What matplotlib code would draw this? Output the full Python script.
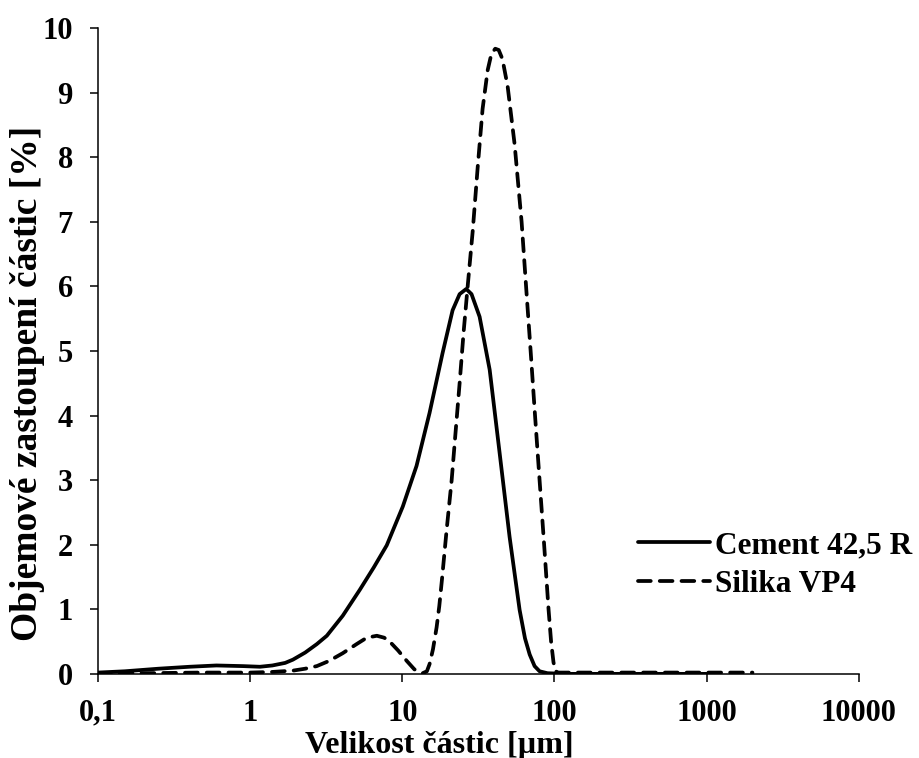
import matplotlib
matplotlib.use("Agg")
import matplotlib.pyplot as plt

# Particle size distribution (volume %) vs. particle size [µm]
cement_size = [0.1, 0.15, 0.25, 0.4, 0.6, 0.9, 1.16, 1.4, 1.7, 1.91, 2.3, 2.74, 3.19,
               4.06, 5.25, 6.5, 7.9, 10.07, 12.4, 15.1, 18.4, 21.4, 23.8, 26.3,
               28.5, 32.2, 37.5, 43.6, 50.7, 59.0, 64.0, 68.7, 74.0, 79.8, 90.0,
               120.0, 200.0, 400.0, 700.0, 1000.0]
cement_vol = [0.02, 0.04, 0.08, 0.11, 0.13, 0.12, 0.11, 0.13, 0.17, 0.22, 0.33, 0.46, 0.59,
              0.90, 1.30, 1.65, 1.99, 2.59, 3.22, 4.04, 4.97, 5.63, 5.88, 5.96,
              5.88, 5.53, 4.71, 3.42, 2.12, 0.99, 0.55, 0.30, 0.12, 0.04, 0.01,
              0.0, 0.0, 0.0, 0.0, 0.0]

silika_size = [0.1, 0.2, 0.47, 1.0, 1.4, 1.91, 2.3, 2.74, 3.3, 4.06, 5.0, 5.84, 6.8,
               7.6, 8.26, 9.4, 10.7, 12.0, 13.6, 14.5, 15.1, 15.9, 16.8, 17.5,
               18.2, 19.5, 21.1, 22.4, 23.8, 25.3, 27.0, 29.0, 31.3, 33.7, 36.4,
               38.5, 40.8, 43.0, 45.5, 49.2, 54.7, 60.8, 65.5, 69.7, 74.5, 79.8,
               85.5, 91.4, 95.0, 98.5, 101.6, 106.0, 150.0, 300.0, 700.0, 1300.0,
               2000.0]
silika_vol = [0.01, 0.01, 0.02, 0.02, 0.03, 0.05, 0.08, 0.12, 0.20, 0.32, 0.46, 0.56, 0.59,
              0.56, 0.50, 0.36, 0.20, 0.07, 0.01, 0.04, 0.15, 0.38, 0.72, 1.05,
              1.45, 2.20, 3.00, 3.75, 4.50, 5.30, 6.05, 6.85, 7.85, 8.75, 9.35,
              9.60, 9.68, 9.66, 9.52, 9.10, 8.20, 7.00, 5.90, 5.00, 4.00, 3.00,
              2.00, 1.00, 0.50, 0.18, 0.04, 0.02, 0.02, 0.02, 0.02, 0.02,
              0.02]

x_ticks = [0.1, 1, 10, 100, 1000, 10000]
x_tick_labels = ["0,1", "1", "10", "100", "1000", "10000"]
y_ticks = list(range(0, 11))

plt.rcParams["font.family"] = ["Liberation Serif", "DejaVu Serif"]
plt.rcParams["font.weight"] = "bold"

fig = plt.figure(figsize=(9.2, 7.58), dpi=100)
ax = fig.add_axes([0.1065, 0.111, 0.827, 0.852])

ax.plot(cement_size, cement_vol, color="black", lw=2.7, solid_capstyle="round",
        solid_joinstyle="round", label="Cement 42,5 R")
ax.plot(silika_size, silika_vol, color="black", lw=2.7, linestyle=(0, (3.4, 2.4)),
        dash_capstyle="round", label="Silika VP4")

ax.set_xscale("log")
ax.set_xlim(0.1, 10000)
ax.set_ylim(0, 10)
ax.set_xticks(x_ticks)
ax.set_xticklabels(x_tick_labels)
ax.minorticks_off()
ax.set_yticks(y_ticks)

for side in ("top", "right"):
    ax.spines[side].set_visible(False)
for side in ("left", "bottom"):
    ax.spines[side].set_linewidth(1.1)

ax.tick_params(axis="both", direction="out", length=6, width=1.1,
               labelsize=22, pad=12)
for lbl in ax.get_xticklabels() + ax.get_yticklabels():
    lbl.set_fontweight("bold")

ax.set_xlabel("Velikost částic [µm]", fontsize=23, fontweight="bold")
ax.set_ylabel("Objemové zastoupení částic [%]", fontsize=27, fontweight="bold")
ax.xaxis.set_label_coords(0.449, -0.088)
ax.yaxis.set_label_coords(-0.069, 0.449)

leg = fig.legend(loc="center left", bbox_to_anchor=(0.6935, 0.2546), frameon=False,
                 handlelength=2.3, handletextpad=0.17, labelspacing=0.3,
                 borderpad=0, borderaxespad=0,
                 prop={"weight": "bold", "size": 22.5})

fig.savefig("out.png", dpi=100)
